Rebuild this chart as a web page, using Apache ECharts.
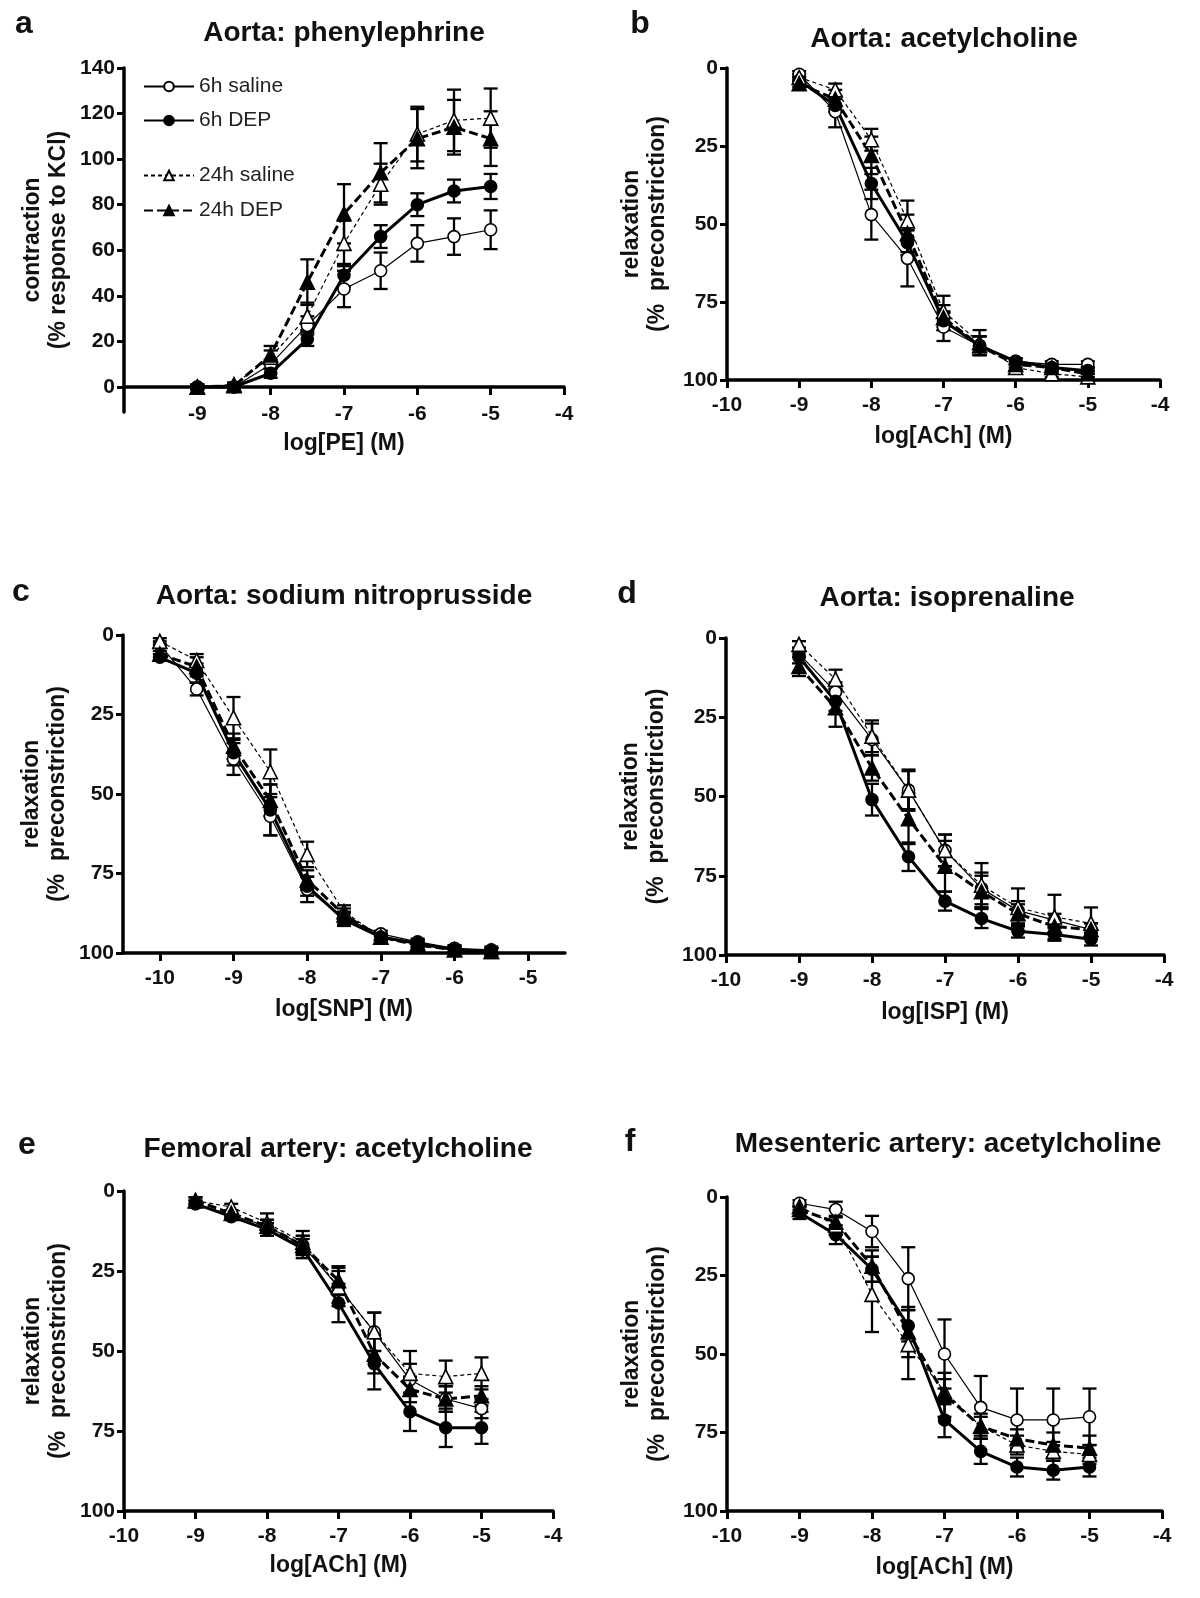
<!DOCTYPE html>
<html>
<head>
<meta charset="utf-8">
<script src="https://cdn.jsdelivr.net/npm/echarts@6/dist/echarts.min.js"></script>
<style>
html, body { margin: 0; padding: 0; background: #fff; }
#main { width: 1200px; height: 1598px; }
</style>
</head>
<body>
<div id="main"></div>
<script>
var groupNames = ['6h saline', '6h DEP', '24h saline', '24h DEP'];

// doses (log M)
var dose9 = [-9, -8.5, -8, -7.5, -7, -6.5, -6, -5.5, -5];
var snpDose = [-10, -9.5, -9, -8.5, -8, -7.5, -7, -6.5, -6, -5.5];

// a: aorta, phenylephrine (% response to KCl)
var aSal6 = [0, 0, 10, 27, 43, 51, 63, 66, 69];
var aSal6Err = [1, 1, 2, 4, 8, 8, 8, 8, 8.5];
var aDep6 = [0, 0, 6, 21, 49, 66, 80, 86, 88];
var aDep6Err = [1, 1, 2, 3, 5, 5, 5, 5, 5.5];
var aSal24 = [0, 1, 13, 31, 63, 89, 111, 117, 118];
var aSal24Err = [1, 1, 3, 6, 10, 9, 12, 13.5, 13];
var aDep24 = [0, 0.5, 14, 46, 76, 94, 109, 114, 109];
var aDep24Err = [1, 1, 4, 10, 13, 13, 13, 12, 12];

// b: aorta, acetylcholine (% relaxation)
var bSal6 = [2, 14, 47, 61, 83, 89, 94, 95, 95];
var bSal6Err = [1, 5, 8, 9, 4.5, 3, 1, 1, 1];
var bDep6 = [4, 12, 37, 56, 81, 89, 94, 96, 97];
var bDep6Err = [1, 2, 5, 4, 3, 3, 1, 1, 1];
var bSal24 = [3, 7, 23, 49, 78, 88, 96, 98, 99];
var bSal24Err = [1, 2, 3.5, 6.5, 5, 4, 1, 1, 1];
var bDep24 = [5, 10, 28, 53, 80, 89, 95, 96, 98];
var bDep24Err = [1, 3, 6, 6, 4, 3, 1, 1, 1];

// c: aorta, sodium nitroprusside
var cSal6 = [3, 17, 39, 57, 80, 89, 94, 96.5, 98.5, 99];
var cSal6Err = [1, 2, 5, 6, 4, 2, 1, 1, 1, 1];
var cDep6 = [7, 12, 37, 55, 79, 89.5, 95, 97, 99, 99.5];
var cDep6Err = [1, 3, 4, 8, 3, 2, 1, 1, 1, 1];
var cSal24 = [2, 8, 26, 43, 69, 87, 95, 97, 99, 99.5];
var cSal24Err = [1, 2, 6.5, 7, 4, 2, 1, 1, 1, 1];
var cDep24 = [6, 10, 35, 52, 77, 88, 95, 97.5, 99, 99.5];
var cDep24Err = [1, 3, 4, 5, 3, 2, 1, 1, 1, 1];

// d: aorta, isoprenaline
var dSal6 = [5, 17, 32, 48, 67, 79, 86, 89, 92];
var dSal6Err = [1, 3, 5, 6, 5, 5, 3, 2, 2];
var dDep6 = [6, 20, 51, 69, 83, 88.5, 92.5, 93.5, 95];
var dDep6Err = [2, 3, 5, 4.5, 3, 3, 2, 2, 2];
var dSal24 = [2, 13, 31, 48, 67, 78, 85, 88, 90];
var dSal24Err = [1, 3, 5, 6.5, 5, 7, 6, 7, 5];
var dDep24 = [9, 22, 41, 57, 72, 80, 87, 91, 92];
var dDep24Err = [3, 6, 4, 8, 8, 5, 3, 2, 2];

// e: femoral artery, acetylcholine
var eSal6 = [4, 7.5, 11, 17, 30, 44, 59, 65, 68];
var eSal6Err = [1, 1, 2, 3, 6, 6, 5, 4, 3];
var eDep6 = [4, 8, 12, 18, 35, 54, 69, 74, 74];
var eDep6Err = [1, 1, 2, 3, 6, 8, 6, 6, 5];
var eSal24 = [3, 5, 10, 16, 30, 44, 57, 58, 57];
var eSal24Err = [1, 1, 3, 3.5, 5, 6, 7, 5, 5];
var eDep24 = [3, 7, 11, 17, 28, 51, 62, 65, 64];
var eDep24Err = [1, 1, 2, 3, 4.5, 6, 4, 4, 3];

// f: mesenteric artery, acetylcholine
var fSal6 = [2, 4, 11, 26, 50, 67, 71, 71, 70];
var fSal6Err = [1, 2.5, 5, 10, 11, 10, 10, 10, 9];
var fDep6 = [5, 12, 23, 41, 71, 81, 86, 87, 86];
var fDep6Err = [2, 3, 4, 5, 5.5, 4, 3, 3, 3];
var fSal24 = [3, 9, 31, 47, 62, 73, 79, 81, 82];
var fSal24Err = [1, 3, 12, 11, 4, 3, 3, 3, 3];
var fDep24 = [4, 8, 22, 43, 63, 73, 77, 79, 80];
var fDep24Err = [1, 4, 5, 8, 7, 4, 3, 4, 4];

// tick values
var peTicks = [0, 20, 40, 60, 80, 100, 120, 140];
var peXTicks = [-9, -8, -7, -6, -5, -4];
var relaxTicks = [0, 25, 50, 75, 100];
var logTicks = [-10, -9, -8, -7, -6, -5, -4];
var snpTicks = [-10, -9, -8, -7, -6, -5];

var font = '"Liberation Sans", Arial, sans-serif';

// look of the four groups
var looks = [
    {symbol: 'circle', size: 12, fill: '#fff', width: 1.2, dash: 'solid'},
    {symbol: 'circle', size: 12, fill: '#000', width: 3, dash: 'solid'},
    {symbol: 'triangle', size: 14, fill: '#fff', width: 1.2, dash: [4, 3]},
    {symbol: 'triangle', size: 14, fill: '#000', width: 3, dash: [9, 4]}
];

var myChart = echarts.init(document.getElementById('main'));

function errorBar(params, api) {
    var x = api.value(0), y = api.value(1), e = api.value(2);
    var p1 = api.coord([x, y - e]);
    var p2 = api.coord([x, y + e]);
    var w = 7;
    var st = {stroke: '#000', lineWidth: 2.3};
    return {
        type: 'group',
        children: [
            {type: 'line', shape: {x1: p1[0], y1: p1[1], x2: p2[0], y2: p2[1]}, style: st},
            {type: 'line', shape: {x1: p1[0] - w, y1: p1[1], x2: p1[0] + w, y2: p1[1]}, style: st},
            {type: 'line', shape: {x1: p2[0] - w, y1: p2[1], x2: p2[0] + w, y2: p2[1]}, style: st}
        ]
    };
}

var series = [];
function addPanel(g, xs, groups, errs) {
    for (var k = 0; k < 4; k++) {
        var lk = looks[k];
        var ys = groups[k], es = errs[k];
        series.push({
            name: groupNames[k] + ' sem',
            type: 'custom',
            xAxisIndex: g, yAxisIndex: g,
            renderItem: errorBar,
            data: xs.map(function (x, i) { return [x, ys[i], es[i]]; }),
            silent: true,
            z: 2
        });
        series.push({
            name: groupNames[k],
            type: 'line',
            xAxisIndex: g, yAxisIndex: g,
            data: xs.map(function (x, i) { return [x, ys[i]]; }),
            symbol: lk.symbol,
            symbolSize: lk.size,
            showAllSymbol: true,
            lineStyle: {color: '#000', width: lk.width, type: lk.dash},
            itemStyle: {color: lk.fill, borderColor: '#000', borderWidth: 1.6},
            emphasis: {disabled: true},
            z: 3
        });
    }
}

addPanel(0, dose9, [aSal6, aDep6, aSal24, aDep24], [aSal6Err, aDep6Err, aSal24Err, aDep24Err]);
addPanel(1, dose9, [bSal6, bDep6, bSal24, bDep24], [bSal6Err, bDep6Err, bSal24Err, bDep24Err]);
addPanel(2, snpDose, [cSal6, cDep6, cSal24, cDep24], [cSal6Err, cDep6Err, cSal24Err, cDep24Err]);
addPanel(3, dose9, [dSal6, dDep6, dSal24, dDep24], [dSal6Err, dDep6Err, dSal24Err, dDep24Err]);
addPanel(4, dose9, [eSal6, eDep6, eSal24, eDep24], [eSal6Err, eDep6Err, eSal24Err, eDep24Err]);
addPanel(5, dose9, [fSal6, fDep6, fSal24, fDep24], [fSal6Err, fDep6Err, fSal24Err, fDep24Err]);

function xAxisOf(g, min, max, ticks, name, gap, margin) {
    return {
        type: 'value', gridIndex: g, min: min, max: max,
        name: name, nameLocation: 'middle', nameGap: gap,
        nameTextStyle: {fontSize: 23, fontWeight: 'bold', color: '#111', fontFamily: font},
        axisLine: {onZero: g === 0, lineStyle: {color: '#000', width: 3.5}},
        axisTick: {customValues: ticks, length: 8, lineStyle: {color: '#000', width: 3}},
        axisLabel: {customValues: ticks, margin: margin, fontSize: 21, fontWeight: 'bold', color: '#111', fontFamily: font},
        splitLine: {show: false}
    };
}

function yAxisOf(g, min, max, ticks, inverse, name, gap) {
    return {
        type: 'value', gridIndex: g, min: min, max: max, inverse: inverse,
        name: name, nameLocation: 'middle', nameGap: gap, nameRotate: 90,
        nameTextStyle: {fontSize: 23, fontWeight: 'bold', color: '#111', lineHeight: 26, fontFamily: font},
        axisLine: {show: true, onZero: false, lineStyle: {color: '#000', width: 3.5}},
        axisTick: {show: true, customValues: ticks, length: 7, lineStyle: {color: '#000', width: 3}},
        axisLabel: {customValues: ticks, margin: 9, fontSize: 21, fontWeight: 'bold', color: '#111', fontFamily: font},
        splitLine: {show: false}
    };
}

var relaxName = 'relaxation\n(%  preconstriction)';

function label(text, x, y, size) {
    return {
        type: 'text', x: x, y: y, silent: true,
        style: {text: text, fill: '#111', font: 'bold ' + size + 'px ' + font, align: 'center', verticalAlign: 'middle'}
    };
}

var option = {
    animation: false,
    backgroundColor: '#fff',
    grid: [
        {left: 124, right: 636, top: 68, bottom: 1186},
        {left: 727, right: 40, top: 68, bottom: 1218},
        {left: 123, right: 635, top: 635, bottom: 645},
        {left: 726, right: 36, top: 638, bottom: 643},
        {left: 124, right: 647, top: 1191, bottom: 87},
        {left: 727, right: 38, top: 1197, bottom: 87}
    ],
    xAxis: [
        xAxisOf(0, -10, -4, peXTicks, 'log[PE] (M)', 20, -8),
        xAxisOf(1, -10, -4, logTicks, 'log[ACh] (M)', 45, 15),
        xAxisOf(2, -10.5, -4.5, snpTicks, 'log[SNP] (M)', 45, 15),
        xAxisOf(3, -10, -4, logTicks, 'log[ISP] (M)', 46, 15),
        xAxisOf(4, -10, -4, logTicks, 'log[ACh] (M)', 43, 15),
        xAxisOf(5, -10, -4, logTicks, 'log[ACh] (M)', 45, 15)
    ],
    yAxis: [
        yAxisOf(0, -11, 140, peTicks, false, 'contraction\n(% response to KCl)', 52),
        yAxisOf(1, 0, 100, relaxTicks, true, relaxName, 56),
        yAxisOf(2, 0, 100, relaxTicks, true, relaxName, 52),
        yAxisOf(3, 0, 100, relaxTicks, true, relaxName, 56),
        yAxisOf(4, 0, 100, relaxTicks, true, relaxName, 52),
        yAxisOf(5, 0, 100, relaxTicks, true, relaxName, 56)
    ],
    legend: [
        {
            data: ['6h saline', '6h DEP'], orient: 'vertical', left: 138, top: 71,
            itemGap: 13, itemWidth: 50, itemHeight: 12, selectedMode: false,
            textStyle: {fontSize: 21, color: '#222', fontFamily: font}
        },
        {
            data: ['24h saline', '24h DEP'], orient: 'vertical', left: 138, top: 160,
            itemGap: 14, itemWidth: 50, itemHeight: 12, selectedMode: false,
            textStyle: {fontSize: 21, color: '#222', fontFamily: font}
        }
    ],
    graphic: [
        label('a', 24, 24, 32),
        label('Aorta: phenylephrine', 344, 33, 28),
        label('b', 640, 24, 32),
        label('Aorta: acetylcholine', 944, 39, 28),
        label('c', 21, 592, 32),
        label('Aorta: sodium nitroprusside', 344, 596, 28),
        label('d', 627, 594, 32),
        label('Aorta: isoprenaline', 947, 598, 28),
        label('e', 27, 1145, 32),
        label('Femoral artery: acetylcholine', 338, 1149, 28),
        label('f', 630, 1142, 32),
        label('Mesenteric artery: acetylcholine', 948, 1144, 28)
    ],
    series: series
};

myChart.setOption(option);
</script>
</body>
</html>
